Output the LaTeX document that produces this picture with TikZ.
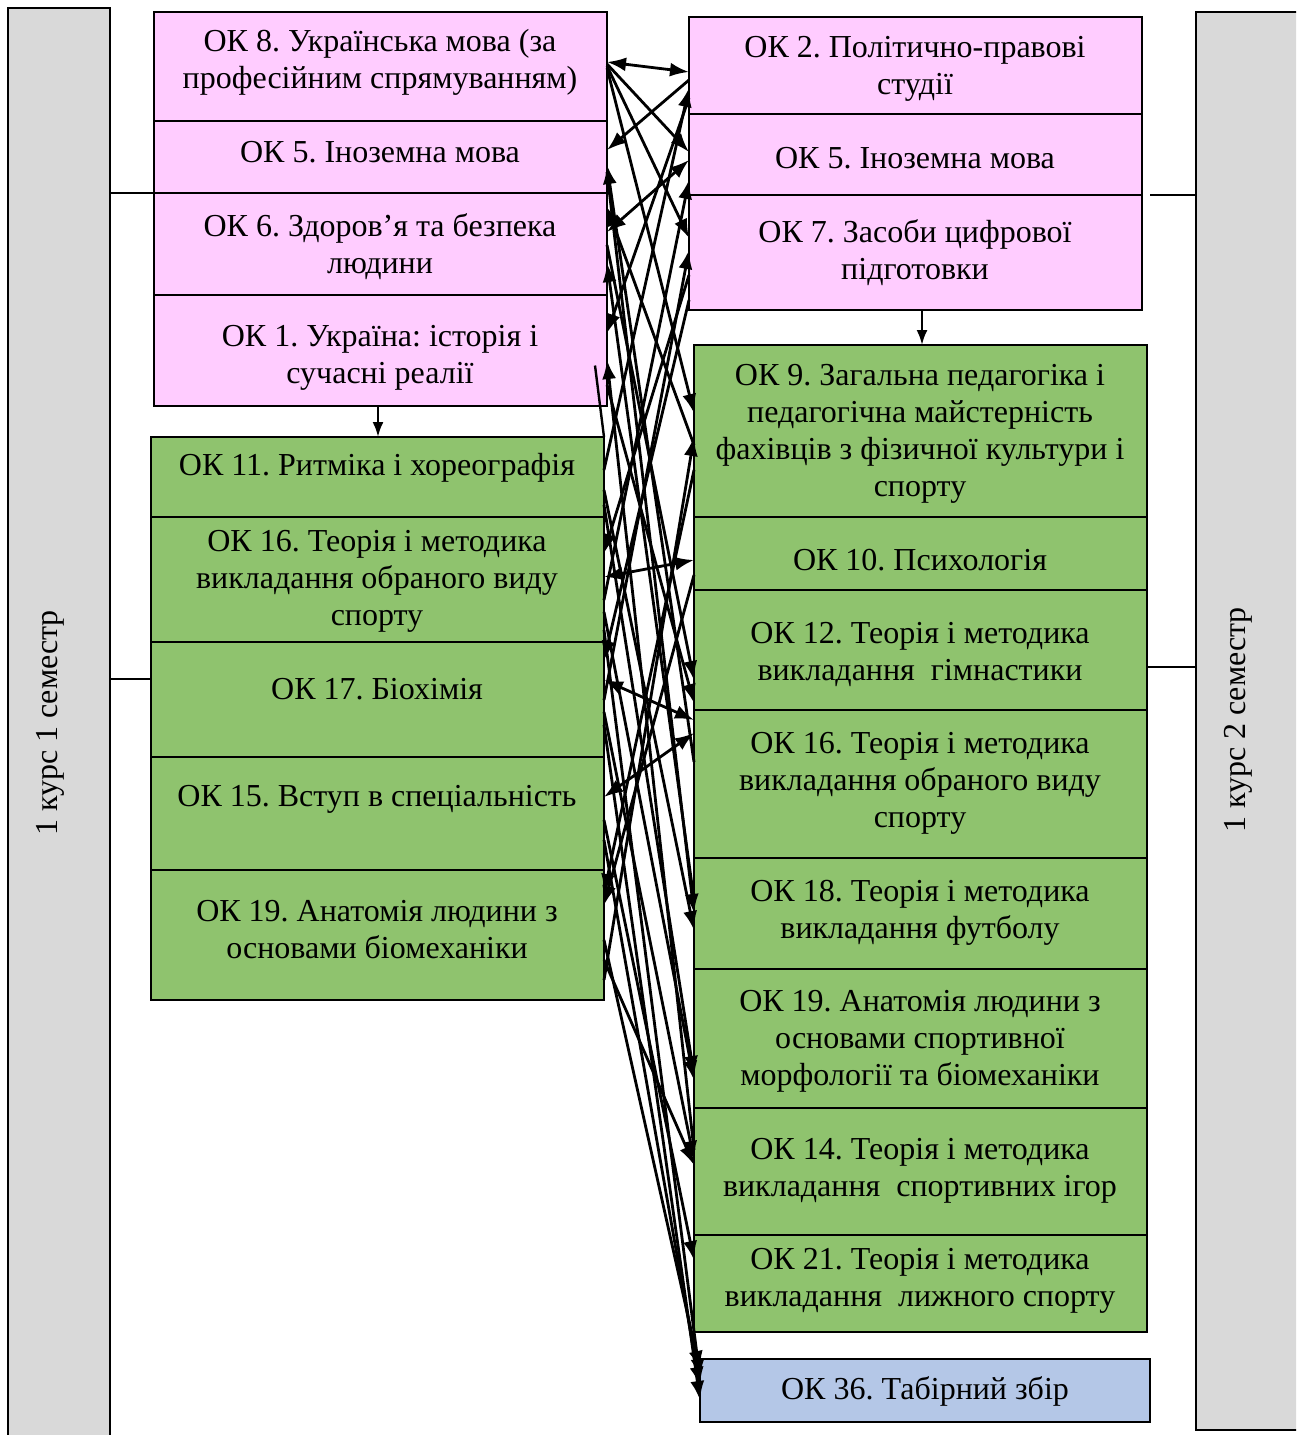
\documentclass[tikz,border=0pt]{standalone}
\usepackage{fontspec}
\setmainfont{Liberation Serif}
\usetikzlibrary{arrows.meta}
\definecolor{pinkc}{RGB}{255,204,255}
\definecolor{greenc}{RGB}{143,195,110}
\definecolor{bluec}{RGB}{180,199,231}
\definecolor{grayc}{RGB}{217,217,217}
\frenchspacing
\begin{document}
\begin{tikzpicture}[x=1pt,y=-1pt,
  cell/.style={draw, line width=1.6pt, minimum width=453pt, inner sep=0pt, outer sep=0pt},
  bar/.style={draw, line width=1.4pt, fill=grayc, inner sep=0pt, outer sep=0pt, minimum width=102pt},
  txt/.style={align=center, inner sep=0pt, font=\fontsize{32}{37}\selectfont},
  arr/.style={-{Latex[length=19pt,width=14pt]}, line width=2.8pt},
  darr/.style={{Latex[length=19pt,width=14pt]}-{Latex[length=19pt,width=14pt]}, line width=2.8pt},
  link/.style={line width=1.4pt}]
\useasboundingbox (0,0) rectangle (1296,1435);
\clip (0,0) rectangle (1296,1435);
% side bars
\node[bar, minimum height=1440pt, anchor=north west] (lbar) at (8,8) {};
\node[bar, minimum height=1418pt, minimum width=110pt, anchor=north west] (rbar) at (1196,12) {};
\node[txt, rotate=90] (lbart) at (50,723) {1 курс 1 семестр};
\node[txt, rotate=90] (rbart) at (1238,720) {1 курс 2 семестр};
% left pink
\node[cell, fill=pinkc, minimum height=109pt] (l8) at (380.5,66.5) {};
\node[cell, fill=pinkc, minimum height=72pt] (l5) at (380.5,157) {};
\node[cell, fill=pinkc, minimum height=102pt] (l6) at (380.5,244) {};
\node[cell, fill=pinkc, minimum height=111pt] (l1) at (380.5,350.5) {};
\node[txt] (l8t) at (380,62) {ОК 8. Українська мова (за\\професійним спрямуванням)};
\node[txt] (l5t) at (380,152) {ОК 5. Іноземна мова};
\node[txt] (l6t) at (380,246.5) {ОК 6. Здоров’я та безпека\\людини};
\node[txt] (l1t) at (380,357.5) {ОК 1. Україна: історія і\\сучасні реалії};
% right pink
\node[cell, fill=pinkc, minimum height=97pt] (r2) at (915.5,65.5) {};
\node[cell, fill=pinkc, minimum height=81pt] (r5) at (915.5,154.5) {};
\node[cell, fill=pinkc, minimum height=115pt] (r7) at (915.5,252.5) {};
\node[txt] (r2t) at (915,68.5) {ОК 2. Політично-правові\\студії};
\node[txt] (r5t) at (915,158) {ОК 5. Іноземна мова};
\node[txt] (r7t) at (915,253) {ОК 7. Засоби цифрової\\підготовки};
% left green
\node[cell, fill=greenc, minimum height=80pt] (g11) at (377.5,477) {};
\node[cell, fill=greenc, minimum height=125pt] (g16) at (377.5,579.5) {};
\node[cell, fill=greenc, minimum height=115pt] (g17) at (377.5,699.5) {};
\node[cell, fill=greenc, minimum height=113pt] (g15) at (377.5,813.5) {};
\node[cell, fill=greenc, minimum height=130pt] (g19) at (377.5,935) {};
\node[txt] (g11t) at (377,468) {ОК 11. Ритміка і хореографія};
\node[txt] (g16t) at (377,581) {ОК 16. Теорія і методика\\викладання обраного виду\\спорту};
\node[txt] (g17t) at (377,689) {ОК 17. Біохімія};
\node[txt] (g15t) at (377,799) {ОК 15. Вступ в спеціальність};
\node[txt] (g19t) at (377,930) {ОК 19. Анатомія людини з\\основами біомеханіки};
% right green
\node[cell, fill=greenc, minimum height=172pt] (h9) at (920.5,431) {};
\node[cell, fill=greenc, minimum height=73pt] (h10) at (920.5,553.5) {};
\node[cell, fill=greenc, minimum height=120pt] (h12) at (920.5,650) {};
\node[cell, fill=greenc, minimum height=148pt] (h16) at (920.5,784) {};
\node[cell, fill=greenc, minimum height=111pt] (h18) at (920.5,913.5) {};
\node[cell, fill=greenc, minimum height=139pt] (h19) at (920.5,1038.5) {};
\node[cell, fill=greenc, minimum height=127pt] (h14) at (920.5,1171.5) {};
\node[cell, fill=greenc, minimum height=97pt] (h21) at (920.5,1283.5) {};
\node[txt] (h9t) at (920,434) {ОК 9. Загальна педагогіка і\\педагогічна майстерність\\фахівців з фізичної культури і\\спорту};
\node[txt] (h10t) at (920,560) {ОК 10. Психологія};
\node[txt] (h12t) at (920,654.5) {ОК 12. Теорія і методика\\викладання\ \ гімнастики};
\node[txt] (h16t) at (920,783) {ОК 16. Теорія і методика\\викладання обраного виду\\спорту};
\node[txt] (h18t) at (920,912.5) {ОК 18. Теорія і методика\\викладання футболу};
\node[txt] (h19t) at (920,1041) {ОК 19. Анатомія людини з\\основами спортивної\\морфології та біомеханіки};
\node[txt] (h14t) at (920,1170.5) {ОК 14. Теорія і методика\\викладання\ \ спортивних ігор};
\node[txt] (h21t) at (920,1280.5) {ОК 21. Теорія і методика\\викладання\ \ лижного спорту};
% blue
\node[cell, fill=bluec, minimum height=63pt, minimum width=450pt] (b36) at (925,1390.5) {};
\node[txt] (b36t) at (925,1391) {ОК 36. Табірний збір};
% links to bars
\draw[link] (lbar.east |- l6.north west) -- (l6.north west);
\draw[link] (lbar.east |- 0,679) -- (g17.west |- 0,679);
\draw[link] ([xshift=8pt]r7.north east) -- (rbar.west |- r7.north east);
\draw[link] (h12.east |- 0,667) -- (rbar.west |- 0,667);
% vertical arrows
\draw[-{Latex[length=15pt,width=11pt]}, line width=2.4pt] (l1.south -| 378,0) -- (g11.north -| 378,0);
\draw[-{Latex[length=15pt,width=11pt]}, line width=2.4pt] (r7.south -| 922,0) -- (h9.north -| 922,0);
% odd line from inside OK1
\coordinate (l1x) at ([xshift=-12pt,yshift=-15pt]l1.east);
\draw[line width=2.4pt] (l1x) -- (g11.north east);
% connectors
\draw[darr] (l8.east|-0,62) -- (r2.west|-0,72);
\draw[arr] (l8.east|-0,64) -- (r5.west|-0,152);
\draw[arr] (l8.east|-0,66) -- (r7.west|-0,238);
\draw[arr] (r2.west|-0,80) -- (l5.east|-0,150);
\draw[arr] (l8.east|-0,68) -- (h9.west|-0,413);
\draw[arr] (h16.west|-0,762) -- (l5.east|-0,165);
\draw[arr] (h9.west|-0,445) -- (l6.east|-0,207);
\draw[darr] (l6.east|-0,232) -- (r5.west|-0,160);
\draw[arr] (g16.east|-0,600) -- (r5.west|-0,180);
\draw[arr] (g11.east|-0,470) -- (r2.west|-0,88);
\draw[arr] (g17.east|-0,700) -- (r7.west|-0,250);
\draw[arr] (h18.west|-0,900) -- (l6.east|-0,263);
\draw[arr] (r2.west|-0,98) -- (l1.east|-0,333);
\draw[arr] (h14.west|-0,1150) -- (l1.east|-0,360);
\draw[arr] (r7.west|-0,275) -- (g16.east|-0,553);
\draw[darr] (g16.east|-0,577) -- (h10.west|-0,560);
\draw[arr] (r7.west|-0,300) -- (g17.east|-0,660);
\draw[darr] (g17.east|-0,680) -- (h16.west|-0,720);
\draw[darr] (g15.east|-0,797) -- (h16.west|-0,733);
\draw[arr] (l6.east|-0,245) -- (h12.west|-0,680);
\draw[arr] (l1.east|-0,385) -- (h12.west|-0,703);
\draw[arr] (h9.west|-0,470) -- (g19.east|-0,893);
\draw[arr] (h10.west|-0,575) -- (g19.east|-0,905);
\draw[arr] (g19.east|-0,980) -- (h9.west|-0,437);
\draw[arr] (l5.east|-0,172) -- (h18.west|-0,913);
\draw[arr] (g11.east|-0,490) -- (h18.west|-0,930);
\draw[arr] (g16.east|-0,612) -- (h19.west|-0,1080);
\draw[arr] (g11.east|-0,505) -- (h19.west|-0,1075);
\draw[arr] (g17.east|-0,712) -- (h14.west|-0,1160);
\draw[arr] (g19.east|-0,960) -- (h14.west|-0,1165);
\draw[arr] (g15.east|-0,820) -- (h21.west|-0,1260);
\draw[arr] (g19.east|-0,940) -- (b36.west|-0,1370);
\draw[arr] (g16.east|-0,630) -- (b36.west|-0,1378);
\draw[arr] (g15.east|-0,840) -- (b36.west|-0,1386);
\draw[arr] (g17.east|-0,725) -- (b36.west|-0,1400);
\end{tikzpicture}
\end{document}
